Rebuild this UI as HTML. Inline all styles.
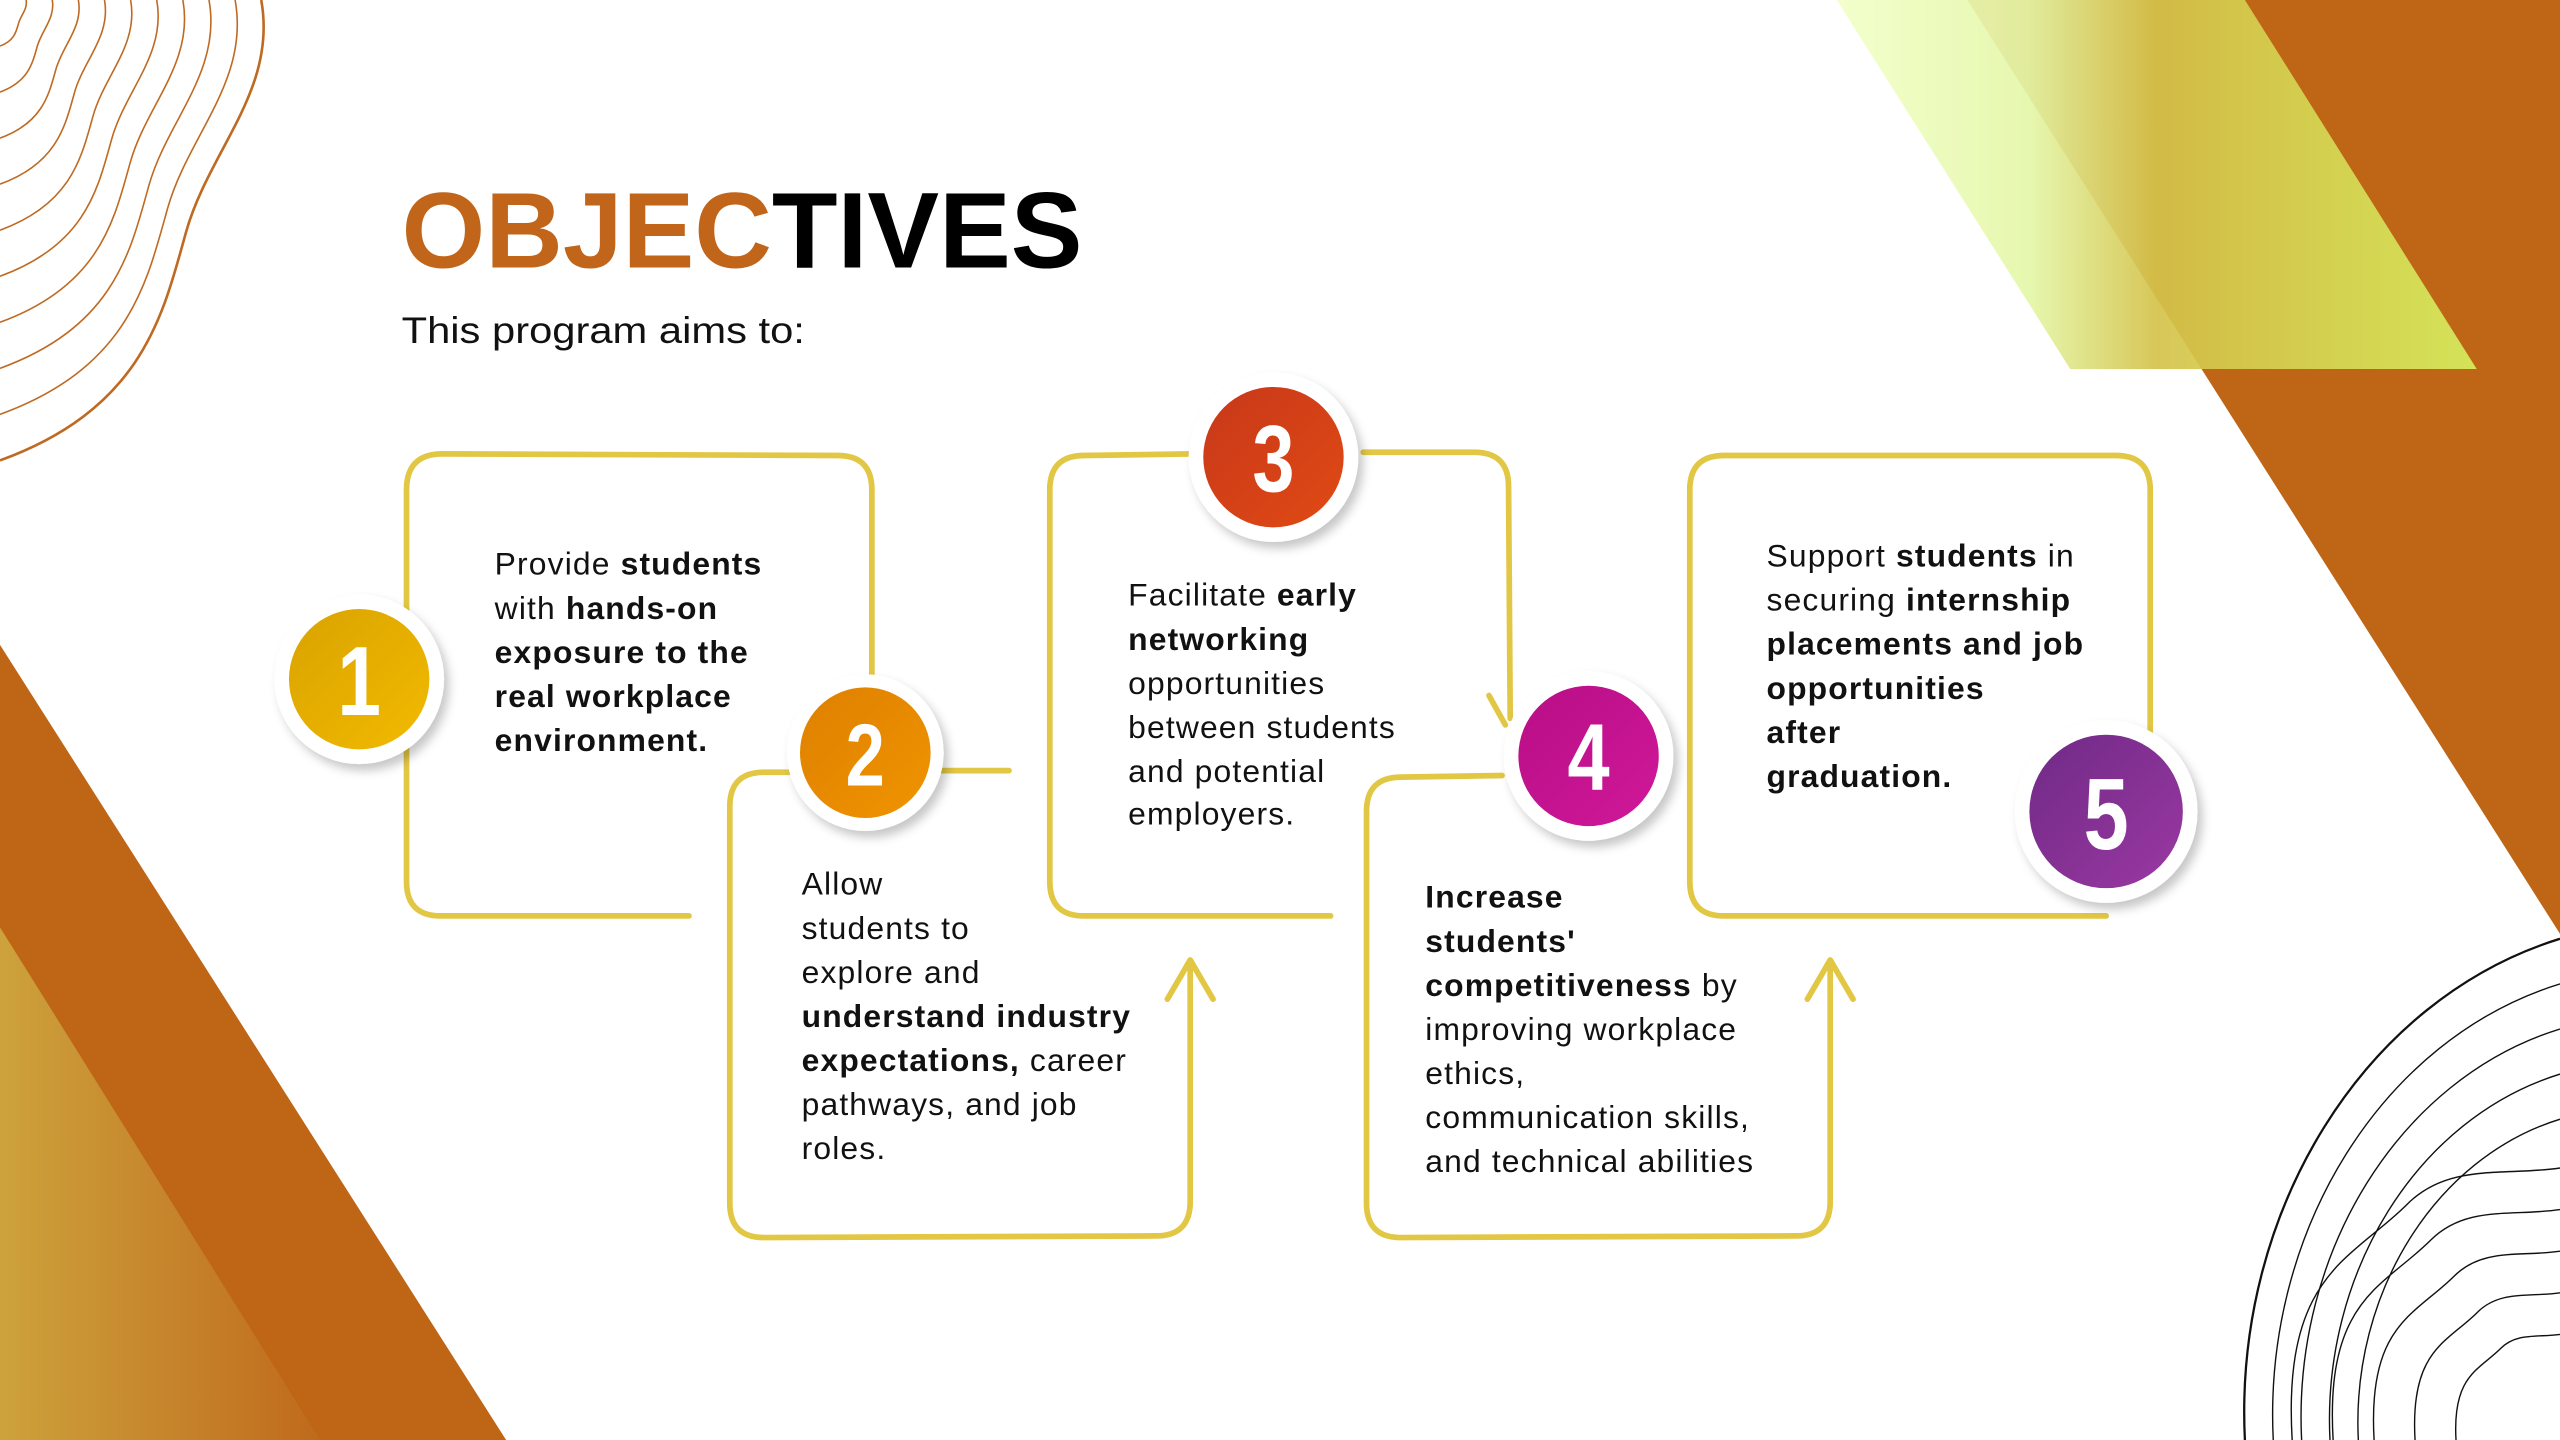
<!DOCTYPE html>
<html><head><meta charset="utf-8"><style>
html,body{margin:0;padding:0;background:#fff;}
svg{display:block;}
text{font-family:"Liberation Sans",sans-serif;}
.b{font-weight:bold;}
.num{font-family:"Liberation Sans Narrow","Liberation Sans",sans-serif;font-weight:bold;fill:#fff;}
</style></head><body>
<svg width="2560" height="1440" viewBox="0 0 1568 882" preserveAspectRatio="none" xmlns="http://www.w3.org/2000/svg">
<defs>
<linearGradient id="lime" x1="0" y1="0" x2="1" y2="0">
<stop offset="0" stop-color="#F2FFC8"/><stop offset="0.3" stop-color="#E4F7A8"/><stop offset="0.5" stop-color="#D4C24A"/><stop offset="1" stop-color="#D6EE5E"/></linearGradient>
<linearGradient id="gold" x1="0" y1="0" x2="1" y2="0"><stop offset="0" stop-color="#CDA23C"/><stop offset="1" stop-color="#C06A1C"/></linearGradient>
<linearGradient id="g1" x1="0" y1="0" x2="1" y2="1"><stop offset="0" stop-color="#D9A300"/><stop offset="1" stop-color="#F2BA00"/></linearGradient>
<linearGradient id="g2" x1="0" y1="0" x2="1" y2="1"><stop offset="0" stop-color="#DE8000"/><stop offset="1" stop-color="#F09400"/></linearGradient>
<linearGradient id="g3" x1="0" y1="0" x2="1" y2="1"><stop offset="0" stop-color="#C8381A"/><stop offset="1" stop-color="#E04A14"/></linearGradient>
<linearGradient id="g4" x1="0" y1="0" x2="1" y2="1"><stop offset="0" stop-color="#B80E86"/><stop offset="1" stop-color="#D0189A"/></linearGradient>
<linearGradient id="g5" x1="0" y1="0" x2="1" y2="1"><stop offset="0" stop-color="#702A86"/><stop offset="1" stop-color="#9A38A2"/></linearGradient>
<filter id="sh" x="-30%" y="-30%" width="170%" height="170%"><feDropShadow dx="3" dy="4" stdDeviation="3" flood-color="#000" flood-opacity="0.22"/></filter>
</defs>

<polygon points="1205,0 1568,0 1568,572" fill="#BF6516"/>
<polygon points="1125,0 1375,0 1517,226 1268,226" fill="url(#lime)" opacity="0.92"/>
<polygon points="0,395 0,882 310,882" fill="#BF6516"/>
<polygon points="0,568 0,882 196,882" fill="url(#gold)"/>

<g fill="none" stroke="#BF6A22" stroke-width="1.6">
<path d="M160,0 C170,55 128,92 114,142 C100,192 88,250 0,282"/>
<path d="M160,0 C170,55 128,92 114,142 C100,192 88,250 0,282" transform="scale(0.9)" vector-effect="non-scaling-stroke"/>
<path d="M160,0 C170,55 128,92 114,142 C100,192 88,250 0,282" transform="scale(0.8)" vector-effect="non-scaling-stroke"/>
<path d="M160,0 C170,55 128,92 114,142 C100,192 88,250 0,282" transform="scale(0.7)" vector-effect="non-scaling-stroke"/>
<path d="M160,0 C170,55 128,92 114,142 C100,192 88,250 0,282" transform="scale(0.6)" vector-effect="non-scaling-stroke"/>
<path d="M160,0 C170,55 128,92 114,142 C100,192 88,250 0,282" transform="scale(0.5)" vector-effect="non-scaling-stroke"/>
<path d="M160,0 C170,55 128,92 114,142 C100,192 88,250 0,282" transform="scale(0.4)" vector-effect="non-scaling-stroke"/>
<path d="M160,0 C170,55 128,92 114,142 C100,192 88,250 0,282" transform="scale(0.3)" vector-effect="non-scaling-stroke"/>
<path d="M160,0 C170,55 128,92 114,142 C100,192 88,250 0,282" transform="scale(0.2)" vector-effect="non-scaling-stroke"/>
<path d="M160,0 C170,55 128,92 114,142 C100,192 88,250 0,282" transform="scale(0.1)" vector-effect="non-scaling-stroke"/>
</g>
<g fill="none" stroke="#111" stroke-width="1.4" transform="translate(1568,882)">
<path d="M-193,0 C-200,-140 -120,-270 0,-307"/>
<path d="M-193,0 C-200,-140 -120,-270 0,-307" transform="scale(0.91)" vector-effect="non-scaling-stroke"/>
<path d="M-193,0 C-200,-140 -120,-270 0,-307" transform="scale(0.82)" vector-effect="non-scaling-stroke"/>
<path d="M-193,0 C-200,-140 -120,-270 0,-307" transform="scale(0.73)" vector-effect="non-scaling-stroke"/>
<path d="M-193,0 C-200,-140 -120,-270 0,-307" transform="scale(0.64)" vector-effect="non-scaling-stroke"/>
<path d="M-193,0 C-200,-120 -150,-130 -110,-170 C-80,-200 -40,-190 0,-196" transform="scale(0.85)" vector-effect="non-scaling-stroke"/>
<path d="M-193,0 C-200,-120 -150,-130 -110,-170 C-80,-200 -40,-190 0,-196" transform="scale(0.72)" vector-effect="non-scaling-stroke"/>
<path d="M-193,0 C-200,-120 -150,-130 -110,-170 C-80,-200 -40,-190 0,-196" transform="scale(0.59)" vector-effect="non-scaling-stroke"/>
<path d="M-193,0 C-200,-120 -150,-130 -110,-170 C-80,-200 -40,-190 0,-196" transform="scale(0.46)" vector-effect="non-scaling-stroke"/>
<path d="M-193,0 C-200,-120 -150,-130 -110,-170 C-80,-200 -40,-190 0,-196" transform="scale(0.33)" vector-effect="non-scaling-stroke"/>
</g>

<text x="246" y="164" font-size="66" font-weight="bold" textLength="417" lengthAdjust="spacingAndGlyphs"><tspan fill="#C0651A">OBJEC</tspan><tspan fill="#000">TIVES</tspan></text>
<text x="246" y="210" font-size="22.5" fill="#111" textLength="247" lengthAdjust="spacingAndGlyphs">This program aims to:</text>

<g fill="none" stroke="#E2C744" stroke-width="3.5" stroke-linecap="round" stroke-linejoin="round">
<path d="M422,561 L270,561 Q249,561 249,540 L249,300 Q249,278 271,278 L513,279 Q534,279 534,300 L534,415"/>
<path d="M490,473 L468,473 Q447,473 447,494 L447,737 Q447,758 468,758 L708,757 Q729,757 729,736 L729,590"/>
<path d="M715,612 L729,588 L743,612"/>
<path d="M575,472 L618,472"/>
<path d="M730,278 L664,279 Q643,279 643,300 L643,540 Q643,561 664,561 L815,561"/>
<path d="M835,277 L903,277 Q924,277 924,298 L925,440 M912,426 L922,444"/>
<path d="M920,475 L858,476 Q837,476 837,497 L837,737 Q837,758 858,758 L1100,757 Q1121,757 1121,736 L1121,590"/>
<path d="M1107,612 L1121,588 L1135,612"/>
<path d="M1290,561 L1056,561 Q1035,561 1035,540 L1035,300 Q1035,279 1056,279 L1296,279 Q1317,279 1317,300 L1317,450"/>
</g>

<g filter="url(#sh)">
<circle cx="220" cy="416" r="52" fill="#fff"/>
<circle cx="530" cy="461" r="48" fill="#fff"/>
<circle cx="780" cy="280" r="52" fill="#fff"/>
<circle cx="973" cy="463" r="52" fill="#fff"/>
<circle cx="1290" cy="497" r="56" fill="#fff"/>
</g>
<circle cx="220" cy="416" r="43" fill="url(#g1)"/>
<circle cx="530" cy="461" r="40" fill="url(#g2)"/>
<circle cx="780" cy="280" r="43" fill="url(#g3)"/>
<circle cx="973" cy="463" r="43" fill="url(#g4)"/>
<circle cx="1290" cy="497" r="47" fill="url(#g5)"/>
<g text-anchor="middle">
<text class="num" x="220" y="438" font-size="60" transform="translate(220,438) scale(0.8,1) translate(-220,-438)">1</text>
<text class="num" x="530" y="481" font-size="54" transform="translate(530,481) scale(0.8,1) translate(-530,-481)">2</text>
<text class="num" x="780" y="301" font-size="58" transform="translate(780,301) scale(0.8,1) translate(-780,-301)">3</text>
<text class="num" x="973" y="484" font-size="58" transform="translate(973,484) scale(0.8,1) translate(-973,-484)">4</text>
<text class="num" x="1290" y="520" font-size="62" transform="translate(1290,520) scale(0.8,1) translate(-1290,-520)">5</text>
</g>

<g font-size="19.5" fill="#111" letter-spacing="0.7">
<text x="303" y="352">Provide <tspan class="b">students</tspan></text>
<text x="303" y="379">with <tspan class="b">hands-on</tspan></text>
<text x="303" y="406" class="b">exposure to the</text>
<text x="303" y="433" class="b">real workplace</text>
<text x="303" y="460" class="b">environment.</text>

<text x="491" y="548">Allow</text>
<text x="491" y="575">students to</text>
<text x="491" y="602">explore and</text>
<text x="491" y="629" class="b">understand industry</text>
<text x="491" y="656"><tspan class="b">expectations,</tspan> career</text>
<text x="491" y="683">pathways, and job</text>
<text x="491" y="710">roles.</text>

<text x="691" y="371">Facilitate <tspan class="b">early</tspan></text>
<text x="691" y="398" class="b">networking</text>
<text x="691" y="425">opportunities</text>
<text x="691" y="452">between students</text>
<text x="691" y="479">and potential</text>
<text x="691" y="505">employers.</text>

<text x="873" y="556" class="b">Increase</text>
<text x="873" y="583" class="b">students'</text>
<text x="873" y="610"><tspan class="b">competitiveness</tspan> by</text>
<text x="873" y="637">improving workplace</text>
<text x="873" y="664">ethics,</text>
<text x="873" y="691">communication skills,</text>
<text x="873" y="718">and technical abilities</text>

<text x="1082" y="347">Support <tspan class="b">students</tspan> in</text>
<text x="1082" y="374">securing <tspan class="b">internship</tspan></text>
<text x="1082" y="401" class="b">placements and job</text>
<text x="1082" y="428" class="b">opportunities</text>
<text x="1082" y="455" class="b">after</text>
<text x="1082" y="482" class="b">graduation.</text>
</g>
</svg>
</body></html>
